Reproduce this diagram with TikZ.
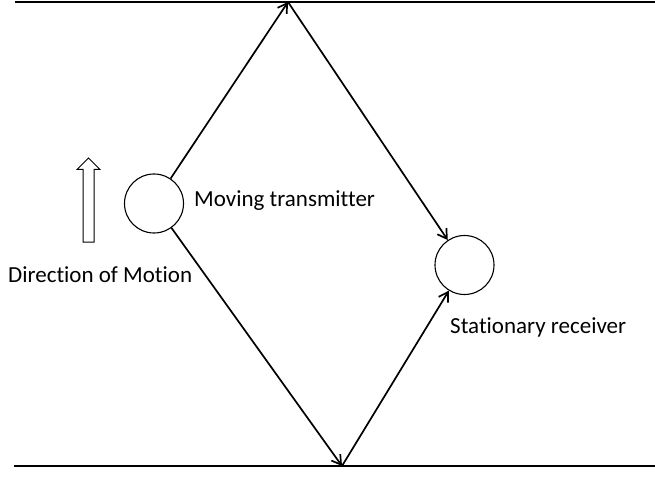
\documentclass[tikz,border=0pt]{standalone}
\usepackage{fontspec}
\setmainfont{Carlito}[Ligatures=NoCommon]
\usetikzlibrary{arrows.meta}
\begin{document}
\begin{tikzpicture}[x=1pt,y=-1pt,
  station/.style={circle,draw,line width=1.1pt,minimum size=59pt,inner sep=0pt},
  ray/.style={line width=1.7pt,-{Straight Barb[length=9pt,width=11pt]}},
  wall/.style={line width=1.6pt},
  hollow/.style={draw,line width=1pt,line join=miter},
  lbl/.style={font=\fontsize{23}{28}\selectfont,inner sep=0pt}]
\useasboundingbox (0,0) rectangle (655,478);
\coordinate (tl) at (15,2);
\coordinate (tr) at (655,2);
\coordinate (bl) at (14,466);
\coordinate (br) at (655,466);
\draw[wall] (tl) -- (tr);
\draw[wall] (bl) -- (br);
\node[station] (tx) at (154,203.5) {};
\node[station] (rx) at (464.5,265) {};
\coordinate (top) at (288,2);
\coordinate (bot) at (342,466);
\draw[ray] (tx) -- (top);
\draw[ray] (top) -- (rx);
\draw[ray] (tx) -- (bot);
\draw[ray] (bot) -- (rx);
\node[lbl,anchor=base west] (txl) at (194,207) {Moving transmitter};
\node[lbl,anchor=base west] (rxl) at (450,333) {Stationary receiver};
\node[lbl,anchor=base west] (dml) at (8,282) {Direction of Motion};
\draw[hollow] (83,242) -- (83,169.5) -- (77,169.5) -- (88.5,158) -- (100,169.5) -- (94,169.5) -- (94,242) -- cycle;
\end{tikzpicture}
\end{document}
